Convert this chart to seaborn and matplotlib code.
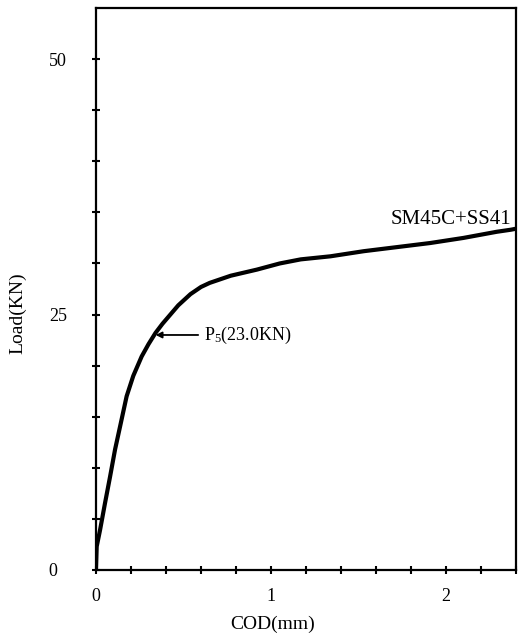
import numpy as np
import pandas as pd
import matplotlib
matplotlib.use("Agg")
import matplotlib.pyplot as plt
import seaborn as sns

# Load versus crack opening displacement, SM45C + SS41 welded specimen
cod_mm = [0, 0.004, 0.023, 0.051, 0.08, 0.109, 0.137, 0.175, 0.213, 0.261,
          0.30, 0.34, 0.38, 0.42, 0.47, 0.54, 0.60, 0.65, 0.77, 0.92,
          1.05, 1.17, 1.34, 1.53, 1.72, 1.91, 2.10, 2.29, 2.37, 2.40]
load_kn = [0, 2.3, 3.9, 6.5, 9.1, 11.8, 14.0, 17.0, 19.0, 20.9,
           22.1, 23.2, 24.1, 24.9, 25.9, 27.0, 27.7, 28.1, 28.8, 29.4,
           30.0, 30.4, 30.7, 31.2, 31.6, 32.0, 32.5, 33.1, 33.3, 33.4]
series_label = "SM45C+SS41"
p5_load = 23.0

x_ticks = [0, 1, 2]
y_ticks = [0, 25, 50]

df = pd.DataFrame({"COD": cod_mm, "Load": load_kn})

sns.set_theme(style="white")
plt.rcParams["font.family"] = ["Liberation Serif", "DejaVu Serif"]
plt.rcParams["mathtext.default"] = "regular"
plt.rcParams["text.color"] = "black"

fig = plt.figure(figsize=(5.19, 6.34), dpi=100)
ax = fig.add_axes([96 / 519, 1 - 570 / 634, 420 / 519, 562 / 634])

sns.lineplot(data=df, x="COD", y="Load", ax=ax, color="black", lw=3.0,
             sort=False, estimator=None)

ax.set_xlim(0, 2.4)
ax.set_ylim(0, 55)

# Cross-shaped ticks on every division, numbers only at the main values
ax.set_xticks(np.arange(0, 2.41, 0.2), minor=True)
ax.set_yticks(np.arange(0, 55, 5), minor=True)
ax.set_xticks(x_ticks)
ax.set_yticks(y_ticks)
ax.set_xticklabels([str(v) for v in x_ticks], fontsize=13)
ax.set_yticklabels([str(v) for v in y_ticks], fontsize=13, ha="left")
ax.tick_params(axis="both", which="both", direction="inout", length=6,
               width=1.5, color="black", labelcolor="black",
               bottom=True, left=True)
ax.tick_params(axis="x", which="major", pad=10)
ax.tick_params(axis="y", which="major", pad=31)

for side in ["left", "right", "top", "bottom"]:
    ax.spines[side].set_visible(True)
    ax.spines[side].set_color("black")
    ax.spines[side].set_linewidth(1.6)

ax.set_xlabel("COD(mm)", fontsize=14, color="black")
ax.set_ylabel("Load(KN)", fontsize=14, color="black")
ax.xaxis.set_label_coords(0.421, -0.082)
ax.yaxis.set_label_coords(-0.165, 0.457)

# Curve label near its end
ax.text(2.375, 33.9, series_label, fontsize=15, ha="right", va="baseline",
        color="black")

# P5 load marked on the curve
p5_cod = float(np.interp(p5_load, load_kn, cod_mm))
ax.annotate(r"P$_5$(23.0KN)", xy=(p5_cod, p5_load), xytext=(36, 0),
            textcoords="offset points", fontsize=13, ha="left", va="center",
            color="black",
            arrowprops=dict(arrowstyle="-|>", color="black", lw=1.3,
                            mutation_scale=9, shrinkA=2, shrinkB=1))

fig.savefig("out.png", dpi=100, facecolor="white")
